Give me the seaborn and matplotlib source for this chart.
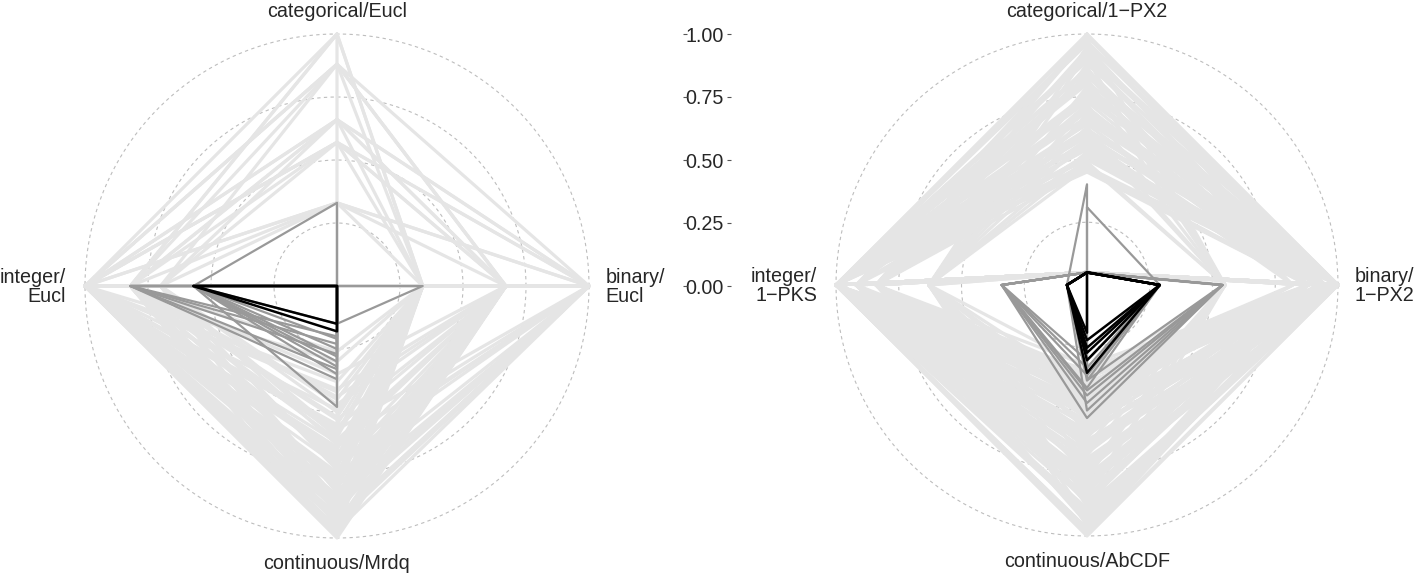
import numpy as np
import pandas as pd
import matplotlib
matplotlib.use("Agg")
import matplotlib.pyplot as plt
import seaborn as sns

# axis order around each radar: top, right, bottom, left
left_axes = ["categorical/Eucl", "binary/\nEucl", "continuous/Mrdq", "integer/\nEucl"]
right_axes = ["categorical/1\u2212PX2", "binary/\n1\u2212PX2", "continuous/AbCDF", "integer/\n1\u2212PKS"]
scale_ticks = [0.0, 0.25, 0.50, 0.75, 1.00]
grid_levels = [0.25, 0.50, 0.75, 1.00]

# left radar: (categorical, binary, continuous, integer)
left_light = [
    (1.00, 0.34, 0.98, 1.00), (1.00, 0.00, 0.95, 0.82), (1.00, 0.34, 0.90, 0.82),
    (0.88, 0.67, 0.97, 1.00), (0.88, 1.00, 0.92, 1.00), (0.88, 0.67, 0.88, 0.82),
    (0.88, 0.67, 0.85, 0.70), (0.88, 0.34, 0.80, 1.00), (0.66, 0.67, 0.96, 1.00),
    (0.66, 1.00, 0.93, 0.82), (0.66, 0.67, 0.82, 0.70), (0.66, 0.34, 0.75, 1.00),
    (0.66, 1.00, 0.70, 0.82), (0.57, 0.67, 0.99, 1.00), (0.57, 1.00, 0.87, 0.82),
    (0.57, 0.67, 0.78, 1.00), (0.57, 0.34, 0.72, 0.70), (0.57, 1.00, 0.66, 1.00),
    (0.33, 1.00, 0.94, 1.00), (0.33, 0.67, 0.86, 0.82), (0.33, 1.00, 0.62, 1.00),
    (0.33, 0.34, 0.58, 0.70), (0.00, 1.00, 0.97, 1.00), (0.00, 0.67, 0.91, 1.00),
    (0.00, 0.67, 0.84, 0.82), (0.00, 1.00, 0.79, 0.82), (0.00, 0.34, 0.76, 1.00),
    (0.00, 0.67, 0.73, 0.70), (0.00, 0.34, 0.68, 0.82), (0.00, 0.67, 0.64, 1.00),
    (0.00, 0.34, 0.60, 0.70), (0.00, 0.67, 0.56, 1.00), (0.00, 0.34, 0.52, 0.82),
    (0.00, 0.34, 0.49, 1.00), (0.00, 0.67, 0.47, 0.70), (0.00, 0.34, 0.45, 0.82),
    (0.00, 0.67, 0.41, 1.00), (0.00, 0.34, 0.38, 1.00), (0.00, 0.67, 0.35, 0.82),
    (0.00, 0.34, 0.30, 1.00), (0.00, 0.34, 0.26, 0.82), (0.00, 0.67, 0.99, 0.82),
    (0.00, 1.00, 0.88, 1.00), (0.00, 0.67, 0.95, 0.70), (0.00, 0.34, 0.93, 1.00),
    (0.00, 0.67, 0.89, 1.00), (0.00, 0.34, 0.86, 0.82), (0.00, 1.00, 0.83, 1.00),
    (0.00, 0.67, 0.80, 1.00), (0.00, 0.34, 0.81, 0.70), (0.00, 0.67, 0.77, 1.00),
    (0.00, 0.34, 0.71, 1.00), (0.00, 0.67, 0.69, 0.82), (0.00, 0.34, 0.65, 1.00),
    (0.00, 0.67, 0.61, 0.82), (0.00, 0.34, 0.55, 1.00), (0.00, 0.34, 0.42, 1.00),
    (0.00, 0.67, 0.44, 0.82), (0.00, 0.34, 0.50, 0.70), (0.00, 0.67, 0.53, 0.82),
    (0.00, 1.00, 0.57, 1.00), (0.00, 0.34, 0.59, 0.82), (0.00, 0.67, 0.63, 0.70),
    (0.00, 1.00, 0.67, 1.00), (0.00, 0.34, 0.70, 0.82), (0.00, 0.67, 0.74, 1.00),
    (0.00, 0.34, 0.78, 0.82), (0.00, 1.00, 0.85, 0.82), (0.00, 0.67, 0.87, 1.00),
    (0.00, 0.34, 0.90, 0.82), (0.00, 1.00, 0.92, 1.00), (0.00, 0.67, 0.94, 0.82),
    (0.00, 0.34, 0.96, 1.00), (0.00, 0.67, 1.00, 1.00),
]
left_mid = [
    (0.33, 0.00, 0.48, 0.57), (0.00, 0.34, 0.15, 0.57),
    (0.00, 0.00, 0.37, 0.82), (0.00, 0.00, 0.33, 0.82), (0.00, 0.00, 0.30, 0.57),
    (0.00, 0.00, 0.27, 0.82), (0.00, 0.00, 0.25, 0.57), (0.00, 0.00, 0.23, 0.82),
    (0.00, 0.00, 0.21, 0.57), (0.00, 0.00, 0.20, 0.82), (0.00, 0.00, 0.28, 0.57),
    (0.00, 0.00, 0.32, 0.57), (0.00, 0.00, 0.35, 0.57),
]
left_dark = [(0.00, 0.00, 0.15, 0.57), (0.00, 0.00, 0.18, 0.57)]

# right radar: (categorical, binary, continuous, integer)
right_light = [
    (1.00, 1.00, 1.00, 1.00), (1.00, 0.88, 0.95, 0.84), (0.97, 1.00, 0.90, 1.00),
    (0.95, 0.88, 0.85, 0.63), (0.93, 1.00, 0.80, 0.84), (0.90, 0.55, 0.75, 1.00),
    (0.88, 1.00, 0.70, 0.63), (0.86, 0.88, 0.98, 1.00), (0.84, 1.00, 0.65, 0.84),
    (0.82, 0.55, 0.92, 1.00), (0.80, 0.88, 0.60, 1.00), (0.78, 1.00, 0.88, 0.63),
    (0.76, 0.88, 0.55, 0.84), (0.74, 1.00, 0.50, 1.00), (0.72, 0.55, 0.83, 0.84),
    (0.70, 1.00, 0.78, 1.00), (0.68, 0.88, 0.46, 0.63), (0.66, 1.00, 0.73, 0.84),
    (0.64, 0.88, 0.97, 1.00), (0.62, 1.00, 0.42, 0.84), (0.60, 0.55, 0.68, 1.00),
    (0.58, 1.00, 0.93, 0.63), (0.56, 0.88, 0.63, 1.00), (0.54, 1.00, 0.40, 1.00),
    (0.52, 0.88, 0.86, 0.84), (0.50, 1.00, 0.58, 0.63), (0.48, 0.55, 0.76, 1.00),
    (0.46, 1.00, 0.44, 0.84), (0.45, 0.88, 0.81, 1.00), (0.05, 1.00, 0.99, 1.00),
    (0.05, 0.88, 0.94, 0.84), (0.05, 1.00, 0.89, 1.00), (0.05, 0.55, 0.84, 0.63),
    (0.05, 1.00, 0.79, 1.00), (0.05, 0.88, 0.74, 0.84), (0.05, 1.00, 0.69, 1.00),
    (0.05, 0.55, 0.64, 1.00), (0.05, 1.00, 0.59, 0.84), (0.05, 0.88, 0.54, 1.00),
    (0.05, 1.00, 0.49, 0.63), (0.05, 0.88, 0.45, 1.00), (0.05, 1.00, 0.41, 0.84),
    (0.05, 0.55, 0.38, 1.00), (0.05, 1.00, 0.35, 1.00), (0.05, 0.88, 0.32, 0.84),
    (0.99, 1.00, 0.36, 1.00), (0.94, 0.88, 0.39, 0.84), (0.91, 1.00, 0.43, 1.00),
    (0.87, 0.55, 0.47, 0.84), (0.83, 1.00, 0.52, 1.00), (0.79, 0.88, 0.57, 0.63),
    (0.75, 1.00, 0.62, 1.00), (0.71, 0.88, 0.67, 0.84), (0.67, 1.00, 0.71, 1.00),
    (0.63, 0.55, 0.77, 0.63), (0.59, 1.00, 0.82, 1.00), (0.55, 0.88, 0.87, 0.84),
    (0.51, 1.00, 0.91, 1.00), (0.47, 0.88, 0.96, 0.63), (0.98, 0.55, 0.61, 0.84),
    (0.92, 1.00, 0.66, 0.63), (0.85, 0.88, 0.72, 1.00), (0.77, 1.00, 0.37, 0.84),
    (0.69, 0.88, 0.34, 1.00), (0.61, 1.00, 0.53, 0.84), (0.57, 0.88, 0.48, 1.00),
    (0.53, 1.00, 0.33, 0.63), (0.49, 0.55, 0.45, 0.84), (0.96, 1.00, 0.58, 1.00),
    (0.89, 0.88, 0.49, 1.00), (0.81, 1.00, 0.44, 1.00), (0.73, 0.88, 0.40, 1.00),
    (0.65, 1.00, 0.37, 0.84), (0.60, 0.88, 0.36, 1.00), (0.52, 1.00, 0.39, 0.84),
    (0.46, 0.88, 0.42, 1.00), (0.05, 1.00, 0.36, 0.92), (0.05, 0.95, 0.39, 1.00),
    (0.05, 1.00, 0.43, 0.92), (0.05, 0.92, 0.47, 1.00), (0.05, 1.00, 0.52, 0.92),
    (0.05, 0.95, 0.56, 1.00), (0.05, 1.00, 0.62, 0.92), (0.05, 0.92, 0.66, 1.00),
    (0.05, 1.00, 0.72, 0.92), (0.05, 0.95, 0.77, 1.00), (0.05, 1.00, 0.82, 0.92),
    (0.05, 0.92, 0.86, 1.00), (0.05, 1.00, 0.92, 0.92), (0.05, 0.95, 0.97, 1.00),
    (0.97, 0.95, 0.76, 0.92), (0.90, 0.92, 0.84, 1.00), (0.83, 0.95, 0.93, 0.92),
    (0.76, 0.92, 0.99, 1.00), (0.69, 0.95, 0.64, 0.92), (0.62, 0.92, 0.59, 1.00),
    (0.55, 0.95, 0.70, 0.92), (0.50, 0.92, 0.79, 1.00), (0.47, 0.95, 0.51, 0.92),
    (0.58, 0.82, 0.46, 0.84), (0.71, 0.82, 0.41, 0.63), (0.84, 0.82, 0.35, 0.84),
]
right_mid = [
    (0.40, 0.00, 0.35, 0.08), (0.31, 0.29, 0.38, 0.00),
    (0.05, 0.54, 0.47, 0.34), (0.05, 0.54, 0.53, 0.34), (0.05, 0.54, 0.42, 0.34),
    (0.05, 0.29, 0.36, 0.34), (0.05, 0.29, 0.30, 0.34), (0.05, 0.54, 0.38, 0.08),
    (0.05, 0.29, 0.33, 0.34), (0.05, 0.54, 0.44, 0.34), (0.05, 0.29, 0.41, 0.34),
    (0.05, 0.54, 0.50, 0.08),
]
right_dark = [
    (0.05, 0.00, 0.19, 0.08), (0.05, 0.29, 0.22, 0.08), (0.05, 0.29, 0.25, 0.08),
    (0.05, 0.29, 0.27, 0.08), (0.05, 0.29, 0.30, 0.08), (0.05, 0.29, 0.35, 0.08),
]

DX = [0, 1, 0, -1]
DY = [1, 0, -1, 0]


def to_long(rows, tag):
    recs = []
    for i, row in enumerate(rows):
        vals = list(row) + [row[0]]
        for k, v in enumerate(vals):
            recs.append({"id": f"{tag}{i}", "x": v * DX[k % 4], "y": v * DY[k % 4]})
    return pd.DataFrame(recs)


sns.set_style("white")
plt.rcParams["font.family"] = ["Liberation Sans", "DejaVu Sans"]
TXT = "#262626"
FS = 14.2

W, H = 1418, 576
fig = plt.figure(figsize=(W / 100, H / 100), dpi=100)


def side_label(ax, x, text, ha):
    # two stacked lines with tight spacing, same alignment
    first, second = text.split("\n")
    ax.text(x, 0.012, first, ha=ha, va="baseline", fontsize=FS, color=TXT)
    ax.text(x, -0.064, second, ha=ha, va="baseline", fontsize=FS, color=TXT)


def radar(cx, cy, R, light, mid, dark, labels):
    xl, yl = 1.3, 1.14
    ax = fig.add_axes([(cx - xl * R) / W, (H - cy - yl * R) / H, 2 * xl * R / W, 2 * yl * R / H])
    ax.set_xlim(-xl, xl)
    ax.set_ylim(-yl, yl)
    t = np.linspace(0, 2 * np.pi, 300)
    for g in grid_levels:
        ax.plot(g * np.cos(t), g * np.sin(t), ls=(0, (3, 3)), color="#bdbdbd", lw=0.8, zorder=1)
    for rows, tag, col, lw in [(light, "l", "#e5e5e5", 2.3), (mid, "m", "#999999", 1.6), (dark, "d", "black", 1.8)]:
        sns.lineplot(data=to_long(rows, tag), x="x", y="y", units="id", estimator=None,
                     sort=False, color=col, lw=lw, ax=ax, legend=False, zorder=2)
    ax.axis("off")
    ax.text(0, 1.09, labels[0], ha="center", va="center", fontsize=FS, color=TXT)
    ax.text(0, -1.10, labels[2], ha="center", va="center", fontsize=FS, color=TXT)
    side_label(ax, 1.065, labels[1], "left")
    side_label(ax, -1.075, labels[3], "right")
    return ax


radar(337, 286, 252, left_light, left_mid, left_dark, left_axes)
radar(1087, 285, 251, right_light, right_mid, right_dark, right_axes)

# shared value scale between the two radars
R, yl = 252, 1.14
for xpos, side in [(731, "left"), (683, "right")]:
    sax = fig.add_axes([xpos / W, (H - 286 - yl * R) / H, 0.0001, 2 * yl * R / H])
    sax.set_ylim(-yl, yl)
    sax.set_xticks([])
    for s in sax.spines.values():
        s.set_visible(False)
    sax.set_yticks(scale_ticks)
    if side == "left":
        sax.set_yticklabels([f"{v:.2f}" for v in scale_ticks])
        sax.tick_params(axis="y", left=True, length=3, width=0.8, color="#555555", pad=2,
                        labelsize=FS, labelcolor=TXT)
    else:
        sax.yaxis.tick_right()
        sax.set_yticklabels([])
        sax.tick_params(axis="y", right=True, left=False, length=3, width=0.8, color="#555555")
    sax.patch.set_visible(False)

fig.savefig("out.png", dpi=100)
